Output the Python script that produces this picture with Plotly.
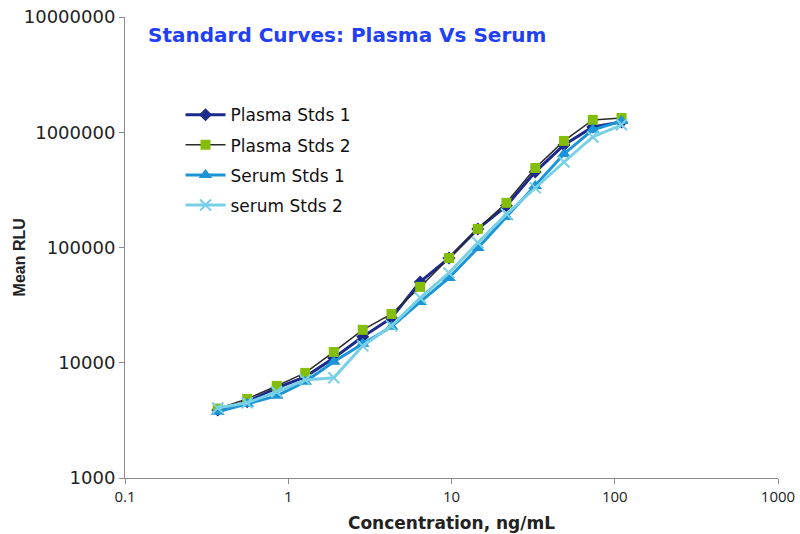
import plotly.graph_objects as go

conc = [0.37, 0.56, 0.85, 1.27, 1.9, 2.86, 4.29, 6.43, 9.65, 14.5, 21.7, 32.6, 48.9, 73.3, 110]

plasma1 = [3900, 4580, 6050, 7550, 11000, 16800, 24500, 50300, 81000, 145000, 230000, 453000, 776000, 1110000, 1230000]
plasma2 = [4000, 4860, 6300, 8170, 12400, 19300, 26500, 45500, 81000, 145000, 244000, 490000, 841000, 1280000, 1330000]
serum1 = [3750, 4400, 5160, 6830, 10200, 14600, 20500, 33700, 54500, 99000, 184000, 342000, 648000, 1050000, 1250000]
serum2 = [4050, 4490, 5600, 7100, 7400, 14000, 20900, 36600, 60200, 110000, 195000, 329000, 552000, 910000, 1160000]

x_ticks = [0.1, 1, 10, 100, 1000]
x_tick_labels = ["0.1", "1", "10", "100", "1000"]
y_ticks = [1000, 10000, 100000, 1000000, 10000000]
y_tick_labels = ["1000", "10000", "100000", "1000000", "10000000"]

fig = go.Figure()
fig.add_trace(go.Scatter(x=conc, y=plasma1, name="Plasma Stds 1", mode="lines+markers", legendgroup="a",
                         line=dict(color="#1c2a8c", width=3),
                         marker=dict(symbol="diamond", size=10, color="#1c2a8c")))
fig.add_trace(go.Scatter(x=conc, y=plasma2, name="Plasma Stds 2", mode="lines+markers", legendgroup="b",
                         line=dict(color="#2a2a2a", width=1.5),
                         marker=dict(symbol="square", size=10, color="#84bd0a")))
fig.add_trace(go.Scatter(x=conc, y=serum1, name="Serum Stds 1", mode="lines+markers", legendgroup="c",
                         line=dict(color="#1b95d5", width=3),
                         marker=dict(symbol="triangle-up", size=12, color="#1b95d5")))
fig.add_trace(go.Scatter(x=conc, y=serum2, name="serum Stds 2", mode="lines+markers", legendgroup="d",
                         line=dict(color="#78d0e6", width=3),
                         marker=dict(symbol="x-thin", size=11, color="#78d0e6",
                                     line=dict(color="#78d0e6", width=2))))

fig.update_layout(
    width=800, height=534,
    margin=dict(l=125, r=22, t=17, b=56),
    paper_bgcolor="white", plot_bgcolor="white",
    font=dict(family="DejaVu Sans", color="#222"),
    showlegend=True,
    legend=dict(x=0.085, y=0.826, xanchor="left", yanchor="top",
                font=dict(family="DejaVu Sans", size=17, color="#111"),
                bgcolor="rgba(0,0,0,0)", tracegroupgap=5, itemwidth=40),
)
fig.add_annotation(text="<b>Standard Curves: Plasma Vs Serum</b>", xref="paper", yref="paper",
                   x=0.032, y=0.96, xanchor="left", yanchor="middle", showarrow=False,
                   font=dict(family="DejaVu Sans", size=20, color="#1f40f5"))
fig.add_annotation(text="<b>Mean RLU</b>", xref="paper", yref="paper",
                   x=-0.162, y=0.479, xanchor="center", yanchor="middle", textangle=-90,
                   showarrow=False,
                   font=dict(family="Liberation Sans Narrow, Liberation Sans", size=16, color="#222"))

fig.update_xaxes(type="log", range=[-1, 3], tickvals=x_ticks, ticktext=x_tick_labels, automargin=False,
                 showgrid=False, zeroline=False, showline=True, linecolor="#8c8c8c", linewidth=1,
                 ticks="outside", ticklen=5, tickcolor="#8c8c8c",
                 tickfont=dict(family="Open Sans", size=15, color="#222"),
                 title=dict(text="<b>Concentration, ng/mL</b>", standoff=12,
                            font=dict(family="DejaVu Sans", size=17, color="#222")))
fig.update_yaxes(type="log", range=[3, 7], tickvals=y_ticks, ticktext=y_tick_labels, automargin=False,
                 showgrid=False, zeroline=False, showline=True, linecolor="#8c8c8c", linewidth=1,
                 ticks="outside", ticklen=5, tickcolor="#8c8c8c",
                 tickfont=dict(family="DejaVu Sans", size=18, color="#222"))

fig.write_html("out.html")
